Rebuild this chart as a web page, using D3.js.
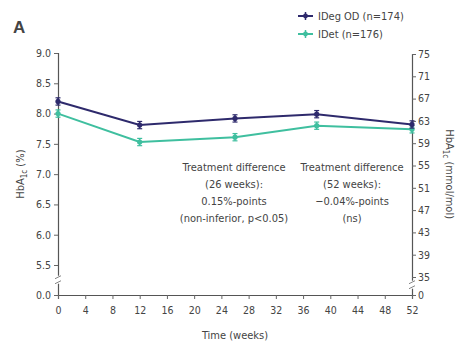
<!DOCTYPE html>
<html>
<head>
<meta charset="utf-8">
<script src="https://cdn.jsdelivr.net/npm/d3@7"></script>
<style>
body { margin:0; background:#fff; }
svg text { font-family: "Liberation Sans Narrow", "DejaVu Sans Condensed", "Liberation Sans", sans-serif; fill:#444; }
</style>
</head>
<body>
<svg id="chart" width="459" height="350"></svg>
<script>
// data
var weeks = [0, 12, 26, 38, 52];
var idegVals = [8.20, 7.81, 7.92, 7.99, 7.82];
var idetVals = [8.00, 7.53, 7.61, 7.80, 7.74];
var errBar = 0.06;
var seriesNames = ["IDeg OD (n=174)", "IDet (n=176)"];
var seriesColors = ["#2e2a6c", "#3fbf9f"];
var xTicks = d3.range(0, 53, 4);
var leftTicks = [0, 5.5, 6.0, 6.5, 7.0, 7.5, 8.0, 8.5, 9.0];
var rightTicks = [0, 35, 39, 43, 47, 51, 55, 59, 63, 67, 71, 75];
var note26 = ["Treatment difference", "(26 weeks):", "0.15%-points", "(non-inferior, p<0.05)"];
var note52 = ["Treatment difference", "(52 weeks):", "\u22120.04%-points", "(ns)"];

var svg = d3.select("#chart");

//scales, broken between 0 and the first real tick
var x = d3.scaleLinear().domain([0, 52]).range([58, 412]);
var y = d3.scaleLinear().domain([0, 5.5, 9.0]).range([295, 265, 53]);
var yR = d3.scaleLinear().domain([0, 35, 75]).range([295, 277, 54]);

var fmt = d3.format(".1f");

//left axis
var gL = svg.append("g").attr("transform", "translate(" + x(0) + ",0)")
	.call(d3.axisLeft(y).tickValues(leftTicks).tickSize(4).tickFormat(fmt));
//right axis
var gR = svg.append("g").attr("transform", "translate(" + x(52) + ",0)")
	.call(d3.axisRight(yR).tickValues(rightTicks).tickSize(4).tickFormat(d3.format("d")));
//x axis
var gX = svg.append("g").attr("transform", "translate(0," + y(0) + ")")
	.call(d3.axisBottom(x).tickValues(xTicks).tickSize(4));

[gL, gR, gX].forEach(function(g){
	g.selectAll("path").attr("stroke", "#555").attr("stroke-width", 1.2);
	g.selectAll("line").attr("stroke", "#666");
	g.selectAll("text").attr("fill", "#555").style("font-size", "10.5px")
		.style("font-family", "'Liberation Sans Narrow','DejaVu Sans Condensed',sans-serif");
});
gX.selectAll("text").attr("dy", "1.1em");
gR.selectAll("text").attr("x", 6);
gL.selectAll("text").attr("x", -7);

//axis break marks
function breakMark(cx, cy){
	var b = svg.append("g").attr("transform", "translate(" + cx + "," + cy + ")");
	b.append("rect").attr("x", -3).attr("y", -4).attr("width", 6).attr("height", 8).attr("fill", "#fff");
	[-2.5, 2.5].forEach(function(o){
		b.append("line").attr("x1", -3).attr("x2", 3).attr("y1", o + 1.5).attr("y2", o - 1.5)
			.attr("stroke", "#777").attr("stroke-width", 0.9);
	});
}
breakMark(x(0), y(2.8));
breakMark(x(52), yR(20));

//series
var series = [idegVals, idetVals];
var line = d3.line().x(function(d){ return x(d[0]); }).y(function(d){ return y(d[1]); });

series.slice().reverse().forEach(function(vals, k){
	var i = series.length - 1 - k;
	var pts = weeks.map(function(w, j){ return [w, vals[j]]; });
	var col = seriesColors[i];
	svg.append("path").datum(pts).attr("d", line)
		.attr("fill", "none").attr("stroke", col).attr("stroke-width", 2);
	var m = svg.append("g").selectAll("g").data(pts).enter().append("g");
	m.append("line")
		.attr("x1", function(d){ return x(d[0]); }).attr("x2", function(d){ return x(d[0]); })
		.attr("y1", function(d){ return y(d[1] + errBar); }).attr("y2", function(d){ return y(d[1] - errBar); })
		.attr("stroke", col).attr("stroke-width", 1.5);
	[errBar, -errBar].forEach(function(e){
		m.append("line")
			.attr("x1", function(d){ return x(d[0]) - 2.5; }).attr("x2", function(d){ return x(d[0]) + 2.5; })
			.attr("y1", function(d){ return y(d[1] + e); }).attr("y2", function(d){ return y(d[1] + e); })
			.attr("stroke", col).attr("stroke-width", 1.2);
	});
	m.append("circle").attr("cx", function(d){ return x(d[0]); }).attr("cy", function(d){ return y(d[1]); })
		.attr("r", 2.6).attr("fill", col);
});

//legend
seriesNames.forEach(function(n, i){
	var ly = 16 + i * 18;
	svg.append("line").attr("x1", 298).attr("x2", 313).attr("y1", ly).attr("y2", ly)
		.attr("stroke", seriesColors[i]).attr("stroke-width", 2);
	svg.append("line").attr("x1", 305.5).attr("x2", 305.5).attr("y1", ly - 4).attr("y2", ly + 4)
		.attr("stroke", seriesColors[i]).attr("stroke-width", 1.5);
	svg.append("circle").attr("cx", 305.5).attr("cy", ly).attr("r", 2.4).attr("fill", seriesColors[i]);
	svg.append("text").attr("x", 318).attr("y", ly + 4).style("font-size", "11px").attr("fill", "#444").text(n);
});

//annotations
function note(lines, cx, top){
	svg.append("g").selectAll("text").data(lines).enter().append("text")
		.attr("x", cx).attr("y", function(d, i){ return top + i * 17; })
		.attr("text-anchor", "middle").style("font-size", "11px").attr("fill", "#444")
		.text(function(d){ return d; });
}
note(note26, 234, 171);
note(note52, 352, 171);

//panel letter
svg.append("text").attr("x", 13).attr("y", 33).style("font-size", "17px").style("font-weight", "bold")
	.style("font-family", "'Liberation Sans',sans-serif").attr("fill", "#333").text("A");

//axis titles
var tl = svg.append("text").attr("transform", "translate(24," + y(7.0) + ") rotate(-90)")
	.attr("text-anchor", "middle").style("font-size", "11px").attr("fill", "#444");
tl.append("tspan").text("HbA");
tl.append("tspan").attr("dy", 3).style("font-size", "8px").text("1c");
tl.append("tspan").attr("dy", -3).text(" (%)");

var tr = svg.append("text").attr("transform", "translate(446," + y(7.0) + ") rotate(90)")
	.attr("text-anchor", "middle").style("font-size", "11px").attr("fill", "#444");
tr.append("tspan").text("HbA");
tr.append("tspan").attr("dy", 3).style("font-size", "8px").text("1c");
tr.append("tspan").attr("dy", -3).text(" (mmol/mol)");

svg.append("text").attr("x", 235).attr("y", 339).attr("text-anchor", "middle")
	.style("font-size", "11px").attr("fill", "#444").text("Time (weeks)");
</script>
</body>
</html>
